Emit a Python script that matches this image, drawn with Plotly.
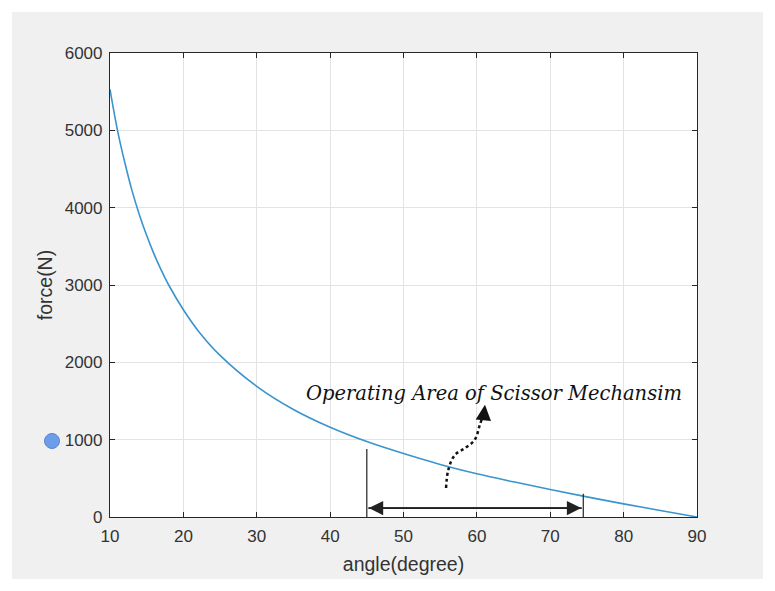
import plotly.graph_objects as go

# values
angle = [10, 11, 12, 13, 14, 15, 16, 17, 18, 20, 22, 25, 30, 35, 40, 45, 50, 55, 60, 65, 70, 75, 80, 85, 90]
force = [5530, 5010, 4590, 4220, 3910, 3640, 3400, 3190, 3000, 2680, 2410, 2090, 1690, 1390, 1160,
         975, 820, 680, 560, 455, 355, 260, 170, 85, 0]

x_ticks = [10, 20, 30, 40, 50, 60, 70, 80, 90]
y_ticks = [0, 1000, 2000, 3000, 4000, 5000, 6000]

# operating range of the mechanism
range_start = 45
range_end = 74.5
start_mark = 880
end_mark = 300
arrow_level = 115

# dotted pointer from the curve to the label
pointer_x = [55.8, 56.1, 57.0, 58.4, 59.7, 60.4, 61.0]
pointer_y = [375, 608, 802, 892, 996, 1190, 1358]

label = "Operating Area of Scissor Mechansim"

ink = "#262626"
fig = go.Figure()

fig.add_trace(
    go.Scatter(
        x=angle, y=force, mode="lines", line=dict(color="#3a94cd", width=1.6, shape="spline"),
        showlegend=False, hoverinfo="skip",
    )
)

# bracket lines
fig.add_trace(
    go.Scatter(
        x=[range_start, range_start, None, range_end, range_end],
        y=[0, start_mark, None, 0, end_mark],
        mode="lines", line=dict(color="#222222", width=1.2), showlegend=False, hoverinfo="skip",
    )
)
fig.add_trace(
    go.Scatter(
        x=pointer_x, y=pointer_y, mode="lines", line=dict(color="#111111", width=2.5, dash="dot", shape="spline"),
        showlegend=False, hoverinfo="skip",
    )
)

# double arrow
for tail, head in [(range_start, range_end), (range_end, range_start)]:
    fig.add_annotation(
        x=head, y=arrow_level, ax=tail, ay=arrow_level, xref="x", yref="y", axref="x", ayref="y",
        showarrow=True, arrowhead=2, arrowsize=1.6, arrowwidth=1.8, arrowcolor="#222222", text="",
        standoff=2,
    )
fig.add_annotation(
    x=61.1, y=1450, ax=pointer_x[-1], ay=pointer_y[-1], xref="x", yref="y", axref="x", ayref="y",
    showarrow=True, arrowhead=2, arrowsize=1.4, arrowwidth=2.2, arrowcolor="#111111", text="",
)
fig.add_annotation(
    x=62.4, y=1603, xref="x", yref="y", text=label, showarrow=False,
    font=dict(family="DejaVu Serif", size=19.5, color="#111111", style="italic"),
)

# figure background (MATLAB grey) and white axes area
fig.add_shape(type="rect", xref="paper", yref="paper", x0=-0.167, x1=1.1124, y0=-0.1336, y1=1.0884,
              fillcolor="#f0f0f0", line=dict(width=0), layer="below")
fig.add_shape(type="rect", xref="paper", yref="paper", x0=0, x1=1, y0=0, y1=1,
              fillcolor="white", line=dict(width=0), layer="below")
# blue dot beside the 1000 label
fig.add_shape(type="circle", xref="paper", yref="paper", x0=-0.1116, x1=-0.086, y0=0.1476, y1=0.18,
              fillcolor="#6b9de8", line=dict(color="#5a86d0", width=1))

axis_common = dict(
    showline=True, linecolor=ink, linewidth=1.2, mirror="ticks", ticks="inside", ticklen=5,
    tickcolor=ink, showgrid=True, gridcolor="#e3e3e3", gridwidth=1, zeroline=False,
    tickfont=dict(family="Liberation Sans", size=17, color="#333333"), ticklabelstandoff=3,
)

fig.update_xaxes(range=[10, 90], tickvals=x_ticks,
                 title=dict(text="angle(degree)", font=dict(family="Liberation Sans", size=19.5, color="#333333"), standoff=12),
                 **axis_common)
fig.update_yaxes(range=[0, 6000], tickvals=y_ticks,
                 title=dict(text="force(N)", font=dict(family="Liberation Sans", size=19.5, color="#333333"), standoff=6),
                 **axis_common)

# the page body adds an 8px offset, so the figure is shrunk to fit the window
fig.update_layout(
    width=767, height=583,
    margin=dict(l=102, r=78, t=45, b=74),
    paper_bgcolor="white", plot_bgcolor="white",
)

fig.write_html("out.html")
